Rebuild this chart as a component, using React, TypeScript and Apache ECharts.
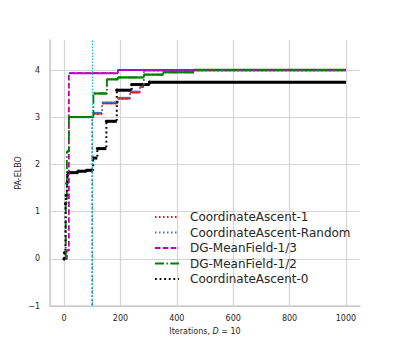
import React, { useEffect, useRef } from "react";
import * as echarts from "echarts";

// ---- data ----
const X_TICKS = [0, 200, 400, 600, 800, 1000];
const Y_TICKS = [-1, 0, 1, 2, 3, 4];
const VLINE_X = 100;

const CA1: number[][] = [[100, -2], [100, 3.08], [135, 3.30], [191, 3.40], [234, 3.53], [269, 3.65], [283, 4.0], [1000, 4.0]];
const CA_RANDOM: number[][] = [[100, -2], [100, 3.10], [135, 3.32], [191, 3.42], [234, 3.55], [269, 3.67], [283, 4.0], [1000, 4.0]];
const DG_13: number[][] = [[5, 0.0], [10, 0.18], [17, 3.94], [191, 4.01], [1000, 4.01]];
const DG_12: number[][] = [[3, 0.0], [6, 1.2], [10, 2.28], [17, 3.01], [104, 3.51], [152, 3.81], [191, 3.85], [283, 3.91], [351, 3.96], [461, 4.01], [1000, 4.01]];
const CA0: number[][] = [[0, 0.0], [2, 0.13], [5, 1.17], [7, 1.35], [10, 1.6], [12, 1.77], [14, 1.83], [50, 1.86], [80, 1.88], [103, 2.14], [118, 2.34], [150, 2.92], [187, 3.58], [240, 3.70], [303, 3.75], [1000, 3.76]];

const NAMES = ["CoordinateAscent-1", "CoordinateAscent-Random", "DG-MeanField-1/3", "DG-MeanField-1/2", "CoordinateAscent-0"];

const FONT = "DejaVu Sans";

function segments(arr: number[][]) {
  const out: number[][] = [];
  for (let i = 0; i < arr.length - 1; i++) {
    if (arr[i + 1][0] > arr[i][0]) out.push([arr[i][0], arr[i][1], arr[i + 1][0]]);
  }
  return out;
}

function overlay(arr: number[][], color: string, width: number, dots: boolean) {
  return {
    type: "custom",
    name: "_flat",
    xAxisIndex: 0,
    yAxisIndex: 0,
    silent: true,
    data: segments(arr),
    renderItem: (params: any, api: any) => {
      const p0 = api.coord([api.value(0), api.value(1)]);
      const p1 = api.coord([api.value(2), api.value(1)]);
      const children: any[] = [
        {
          type: "line",
          shape: { x1: p0[0], y1: p0[1], x2: p1[0], y2: p1[1] },
          style: { stroke: color, lineWidth: width, fill: null },
        },
      ];
      if (dots) {
        children.push({ type: "circle", shape: { cx: p0[0], cy: p0[1], r: 1.6 }, style: { fill: color } });
      }
      return { type: "group", children };
    },
  };
}

function lineSeries(name: string, arr: number[][], color: string, width: number, dash: number[], extra: any = {}) {
  return {
    type: "line",
    name,
    xAxisIndex: 0,
    yAxisIndex: 0,
    data: arr,
    step: "end",
    symbol: "none",
    lineStyle: { color, width, type: dash },
    itemStyle: { color },
    ...extra,
  };
}

export default function App() {
  const ref = useRef<HTMLDivElement>(null);
  useEffect(() => {
    if (!ref.current) return;
    document.body.style.margin = "0";
    const chart = echarts.init(ref.current, undefined, { renderer: "svg" });
    const gridColor = "#d4d4d4";
    const labelColor = "#262626";
    const option: any = {
      animation: false,
      backgroundColor: "#ffffff",
      textStyle: { fontFamily: FONT },
      grid: [
        { left: 50, top: 40, width: 310, height: 266 },
        { left: 64.1, top: 40, width: 281.8, height: 266 },
        { left: 50, top: 70.3, width: 310, height: 235.7 },
      ],
      xAxis: [
        {
          gridIndex: 0, type: "value", min: -50, max: 1050,
          axisLine: { show: true, onZero: false, lineStyle: { color: "#cccccc", width: 1.6 } },
          axisTick: { show: false }, axisLabel: { show: false }, splitLine: { show: false },
          name: "Iterations, {i|D} = 10",
          nameLocation: "middle",
          nameGap: 21,
          nameTextStyle: { fontFamily: FONT, fontSize: 8, color: labelColor, rich: { i: { fontStyle: "italic", fontFamily: FONT, fontSize: 8, color: labelColor } } },
        },
        {
          gridIndex: 1, type: "value", min: X_TICKS[0], max: X_TICKS[X_TICKS.length - 1], interval: 200,
          axisLine: { show: false }, axisTick: { show: false },
          axisLabel: { show: true, fontFamily: FONT, fontSize: 8, color: labelColor, margin: 8, formatter: (v: number) => String(v) },
          splitLine: { show: true, lineStyle: { color: gridColor, width: 1.2 } },
        },
        {
          gridIndex: 2, type: "value", min: 0, max: 1, show: false,
        },
      ],
      yAxis: [
        {
          gridIndex: 0, type: "value", min: -1, max: 4.645,
          axisLine: { show: true, onZero: false, lineStyle: { color: "#cccccc", width: 1.6 } },
          axisTick: { show: false }, axisLabel: { show: false }, splitLine: { show: false },
          name: "PA-ELBO",
          nameLocation: "middle",
          nameGap: 28,
          nameTextStyle: { fontFamily: FONT, fontSize: 8, color: labelColor },
        },
        { gridIndex: 1, type: "value", min: 0, max: 1, show: false },
        {
          gridIndex: 2, type: "value", min: Y_TICKS[0], max: Y_TICKS[Y_TICKS.length - 1], interval: 1,
          axisLine: { show: false }, axisTick: { show: false },
          axisLabel: {
            show: true, fontFamily: FONT, fontSize: 8, color: labelColor, margin: 10,
            formatter: (v: number) => (v < 0 ? "\u2212" + Math.abs(v) : String(v)),
          },
          splitLine: { show: true, lineStyle: { color: gridColor, width: 1.2 } },
        },
      ],
      legend: {
        data: NAMES,
        orient: "vertical",
        left: 154,
        top: 211,
        padding: 0,
        itemWidth: 24,
        itemHeight: 14,
        itemGap: 3.5,
        itemStyle: { opacity: 0 },
        textStyle: { fontFamily: FONT, fontSize: 12, color: labelColor, padding: [0, 0, 0, 6] },
      },
      series: [
        lineSeries(NAMES[0], CA1, "#ff0000", 1.5, [1.5, 2.5], {
          markLine: {
            silent: true,
            symbol: "none",
            label: { show: false },
            lineStyle: { color: "#17becf", width: 1, type: [1.5, 1.5] },
            data: [{ xAxis: VLINE_X }],
          },
        }),
        overlay(CA1, "#ff0000", 1.8, false),
        lineSeries(NAMES[1], CA_RANDOM, "#4c72b0", 1.5, [1.5, 2.5]),
        overlay(CA_RANDOM, "#4c72b0", 1.8, false),
        lineSeries(NAMES[2], DG_13, "#bf00bf", 1.8, [5.5, 2.4]),
        overlay(DG_13, "#bf00bf", 2, false),
        lineSeries(NAMES[3], DG_12, "#008000", 1.8, [9, 2.4, 1.5, 2.4]),
        overlay(DG_12, "#008000", 2.2, false),
        lineSeries(NAMES[4], CA0, "#000000", 2, [1.8, 2.8]),
        overlay(CA0, "#000000", 3, true),
      ],
    };
    chart.setOption(option);
    return () => chart.dispose();
  }, []);
  return <div ref={ref} style={{ width: 400, height: 344 }} />;
}
